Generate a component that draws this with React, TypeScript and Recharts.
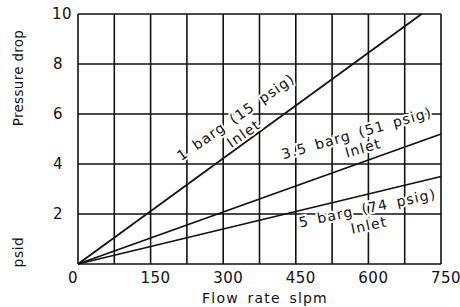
import { LineChart, Line, XAxis, YAxis, CartesianGrid, ReferenceDot } from 'recharts';

const flowTicks = [0, 75, 150, 225, 300, 375, 450, 525, 600, 675, 750];
const dropTicks = [0, 2, 4, 6, 8, 10];

// each curve is a straight line from the origin
const flow1Barg = [0, 710];
const drop1Barg = [0, 10];
const flow35Barg = [0, 750];
const drop35Barg = [0, 5.2];
const flow5Barg = [0, 750];
const drop5Barg = [0, 3.5];

const seriesNames = ['1 barg (15 psig)', '3.5 barg (51 psig)', '5 barg (74 psig)'];
const labelFlow = [326, 576, 598];
const labelDrop = [5.88, 5.24, 2.24];

const toPoints = (xs: number[], ys: number[]) => xs.map((x, i) => ({ flow: x, drop: ys[i] }));

const FONT = '"DejaVu Sans", sans-serif';
const INK = '#111';

const labelStyle = [
  { angle: -35, inletDx: -3, inletDy: 18 },
  { angle: -16, inletDx: 2, inletDy: 16 },
  { angle: -12, inletDx: -2, inletDy: 17 },
];

function FlowTick({ x, payload }: { x?: number; payload?: { value: number } }) {
  const v = payload?.value ?? 0;
  if (v % 150 !== 0) return <g />;
  const px = (x ?? 0) + (v === 0 ? -5 : 5);
  return (
    <text x={px} y={278} textAnchor="middle" dominantBaseline="central"
      style={{ fontFamily: FONT, fontSize: 15, letterSpacing: 0.5, fill: INK }}>
      {v}
    </text>
  );
}

function DropTick({ y, payload }: { y?: number; payload?: { value: number } }) {
  const v = payload?.value ?? 0;
  if (v === 0) return <g />;
  return (
    <text x={v === 10 ? 62 : 58} y={y} textAnchor="middle" dominantBaseline="central"
      style={{ fontFamily: FONT, fontSize: 15, letterSpacing: 0.5, fill: INK }}>
      {v}
    </text>
  );
}

function SeriesLabel({ cx, cy, idx }: { cx?: number; cy?: number; idx: number }) {
  const s = labelStyle[idx];
  const textStyle = {
    fontFamily: FONT, fontSize: 14, letterSpacing: 1.2, wordSpacing: 3, fill: INK,
    stroke: '#fff', strokeWidth: 4, paintOrder: 'stroke' as const,
  };
  return (
    <g transform={`translate(${cx ?? 0},${cy ?? 0}) rotate(${s.angle})`}>
      <text x={0} y={0} textAnchor="middle" dominantBaseline="central" style={textStyle}>
        {seriesNames[idx]}
      </text>
      <text x={s.inletDx} y={s.inletDy} textAnchor="middle" dominantBaseline="central" style={textStyle}>
        Inlet
      </text>
    </g>
  );
}

export default function App() {
  return (
    <div style={{ position: 'absolute', left: 0, top: 0, background: '#fff' }}>
      <LineChart width={460} height={307} margin={{ top: 14, right: 19, left: 0, bottom: 0 }}>
        <CartesianGrid stroke={INK} strokeWidth={1.6} />
        <XAxis type="number" dataKey="flow" domain={[0, 750]} ticks={flowTicks} interval={0}
          axisLine={false} tickLine={false} height={43} tick={<FlowTick />}
          label={{
            content: () => (
              <text x={265} y={298} textAnchor="middle" dominantBaseline="central"
                style={{ fontFamily: FONT, fontSize: 14, letterSpacing: 1.2, wordSpacing: 3, fill: INK }}>
                Flow rate slpm
              </text>
            ),
          }} />
        <YAxis type="number" dataKey="drop" domain={[0, 10]} ticks={dropTicks} interval={0}
          axisLine={false} tickLine={false} width={78} tick={<DropTick />}
          label={{
            content: () => (
              <g style={{ fontFamily: FONT, fill: INK }}>
                <text transform="translate(18,78) rotate(-90)" textAnchor="middle" dominantBaseline="central"
                  style={{ fontSize: 13.5, letterSpacing: 0.3 }}>
                  Pressure drop
                </text>
                <text transform="translate(18,252) rotate(-90)" textAnchor="middle" dominantBaseline="central"
                  style={{ fontSize: 14, letterSpacing: 0.5 }}>
                  psid
                </text>
              </g>
            ),
          }} />
        {labelFlow.map((fx, i) => (
          <ReferenceDot key={i} x={fx} y={labelDrop[i]} r={0}
            shape={(p: { cx?: number; cy?: number }) => <SeriesLabel cx={p.cx} cy={p.cy} idx={i} />} />
        ))}
        <Line data={toPoints(flow1Barg, drop1Barg)} dataKey="drop" stroke={INK} strokeWidth={1.8} dot={false} isAnimationActive={false} />
        <Line data={toPoints(flow35Barg, drop35Barg)} dataKey="drop" stroke={INK} strokeWidth={1.8} dot={false} isAnimationActive={false} />
        <Line data={toPoints(flow5Barg, drop5Barg)} dataKey="drop" stroke={INK} strokeWidth={1.8} dot={false} isAnimationActive={false} />
      </LineChart>
    </div>
  );
}
